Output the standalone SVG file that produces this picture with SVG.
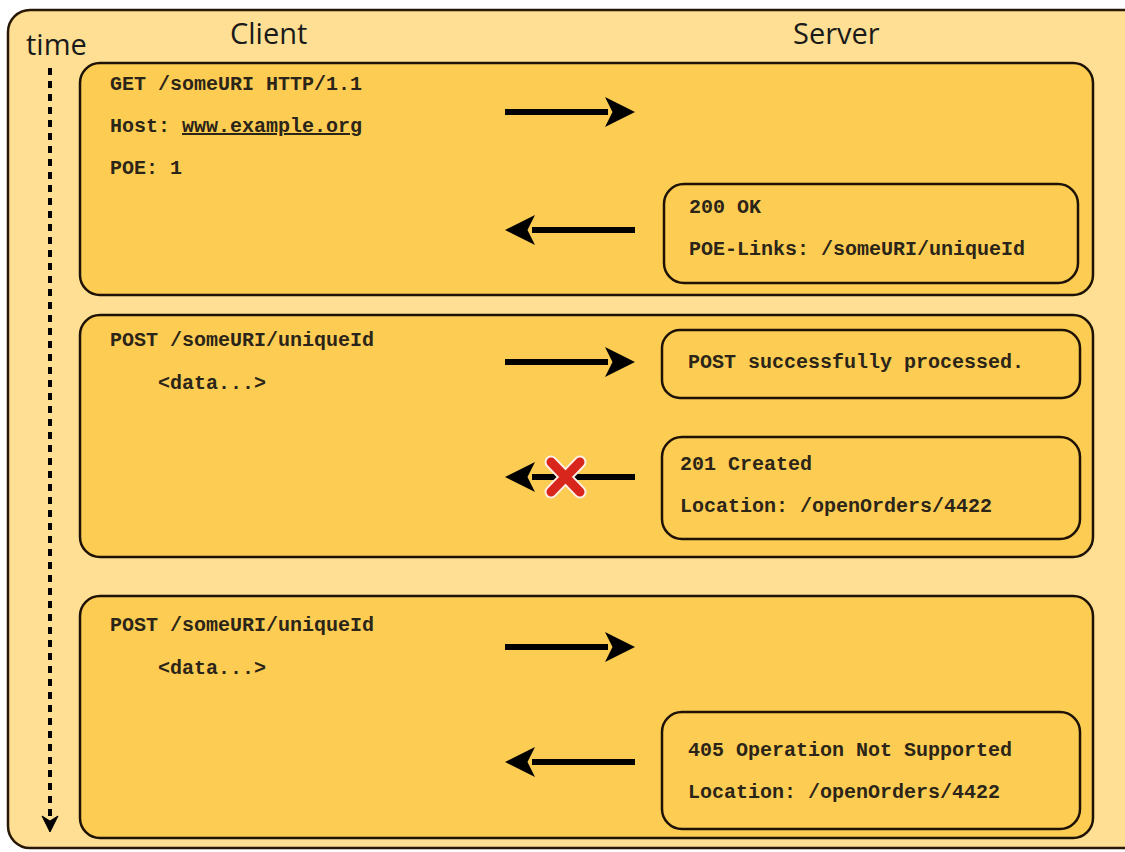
<svg xmlns="http://www.w3.org/2000/svg" width="1125" height="852" viewBox="0 0 1125 852">
<defs>
<style>
.frame{fill:#fedf93;stroke:#2a1806;stroke-width:2.5}
.panel{fill:#fccd52;stroke:#1e1206;stroke-width:2.5}
.box{fill:#fccd52;stroke:#1e1206;stroke-width:2.5}
.mono{font-family:"Liberation Mono","Courier New",monospace;font-weight:bold;font-size:20px;fill:#2b2418}
.head{font-family:"Open Sans","Noto Sans",sans-serif;font-size:29px;fill:#1a1a1a}
.arr{stroke:#000;stroke-width:6;fill:none}
</style>
<marker id="ah" viewBox="0 0 20 20" refX="2" refY="10" markerWidth="5" markerHeight="5" markerUnits="strokeWidth" orient="auto">
<path d="M0,0 L20,10 L0,20 L5,10 Z" fill="#000"/>
</marker>
</defs>
<rect width="1125" height="852" fill="#ffffff"/>
<g id="frame">
<rect class="frame" x="8" y="10" width="1140" height="838" rx="22"/>
<text class="head" x="26" y="55">time</text>
<text class="head" x="230" y="44">Client</text>
<text class="head" x="793" y="44">Server</text>
</g>
<g id="timeline">
<line x1="50" y1="68" x2="50" y2="818" stroke="#000" stroke-width="4" stroke-dasharray="7,6"/>
<path d="M42,816 L50,832 L58,816 L50,821 Z" fill="#000" stroke="#000" stroke-width="1"/>
</g>
<g id="panel1">
<rect class="panel" x="80" y="63" width="1013" height="232" rx="20"/>
<text class="mono" x="110" y="90">GET /someURI HTTP/1.1</text>
<text class="mono" x="110" y="132">Host: <tspan text-decoration="underline">www.example.org</tspan></text>
<text class="mono" x="110" y="174">POE: 1</text>
</g>
<g id="resp1">
<rect class="box" x="664" y="184" width="414" height="99" rx="20"/>
<text class="mono" x="689" y="213">200 OK</text>
<text class="mono" x="689" y="255">POE-Links: /someURI/uniqueId</text>
</g>
<g id="panel2">
<rect class="panel" x="80" y="315" width="1013" height="242" rx="20"/>
<text class="mono" x="110" y="346">POST /someURI/uniqueId</text>
<text class="mono" x="158" y="389">&lt;data...&gt;</text>
</g>
<g id="resp2">
<rect class="box" x="662" y="330" width="418" height="68" rx="18"/>
<text class="mono" x="688" y="368">POST successfully processed.</text>
</g>
<g id="resp3">
<rect class="box" x="662" y="437" width="418" height="102" rx="20"/>
<text class="mono" x="680" y="470">201 Created</text>
<text class="mono" x="680" y="512">Location: /openOrders/4422</text>
</g>
<g id="panel3">
<rect class="panel" x="80" y="596" width="1013" height="242" rx="20"/>
<text class="mono" x="110" y="631">POST /someURI/uniqueId</text>
<text class="mono" x="158" y="674">&lt;data...&gt;</text>
</g>
<g id="resp4">
<rect class="box" x="662" y="712" width="418" height="117" rx="20"/>
<text class="mono" x="688" y="756">405 Operation Not Supported</text>
<text class="mono" x="688" y="798">Location: /openOrders/4422</text>
</g>
<g id="connectors">
<line class="arr" x1="505" y1="112" x2="608" y2="112" marker-end="url(#ah)"/>
<line class="arr" x1="635" y1="230" x2="532" y2="230" marker-end="url(#ah)"/>
<line class="arr" x1="505" y1="362" x2="608" y2="362" marker-end="url(#ah)"/>
<line class="arr" x1="635" y1="477" x2="532" y2="477" marker-end="url(#ah)"/>
<line class="arr" x1="505" y1="647" x2="608" y2="647" marker-end="url(#ah)"/>
<line class="arr" x1="635" y1="762" x2="532" y2="762" marker-end="url(#ah)"/>
</g>
<g id="cross">
<path d="M551,462 L580,492 M580,462 L551,492" stroke="#fff0e8" stroke-width="13" stroke-linecap="round"/>
<path d="M551,462 L580,492 M580,462 L551,492" stroke="#d8261c" stroke-width="9" stroke-linecap="round"/>
</g>
</svg>
